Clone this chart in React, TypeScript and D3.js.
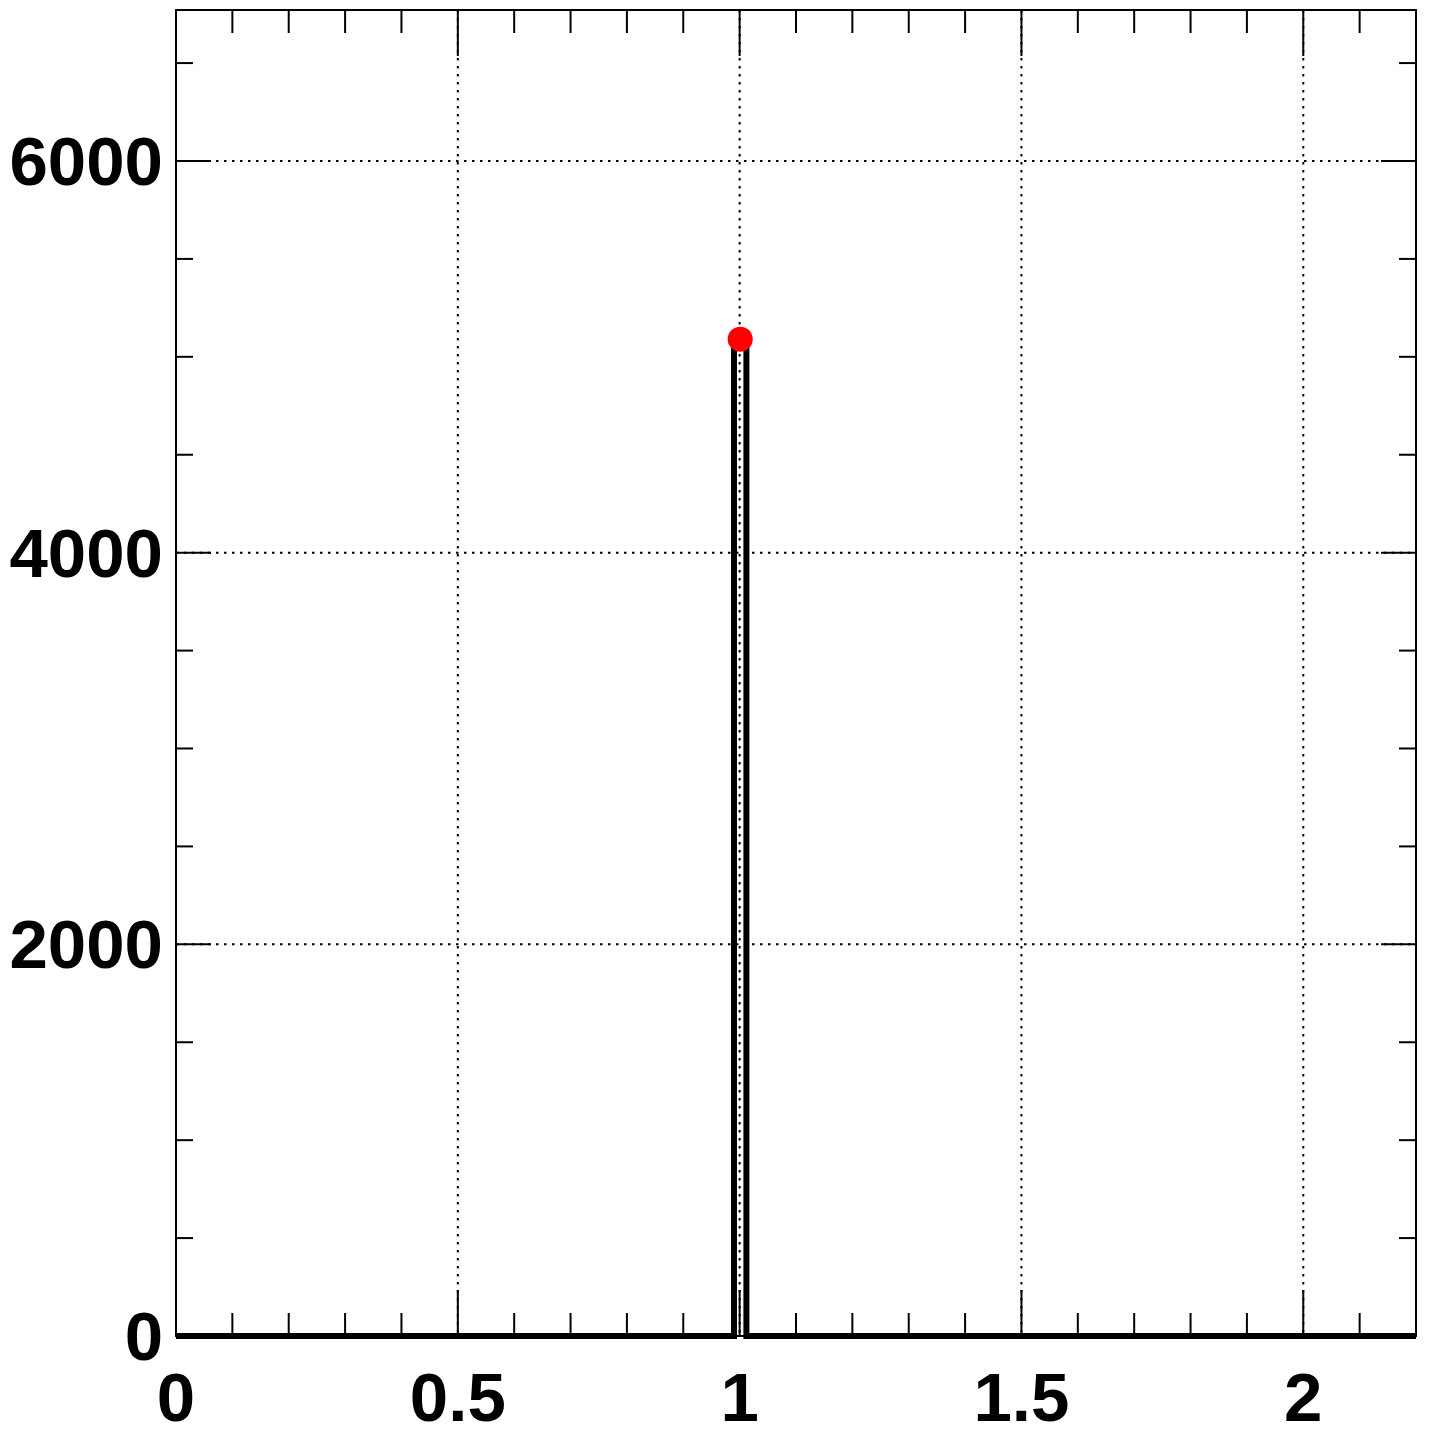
import React from "react";
import * as d3 from "d3";

// ---- data ----
const binEdges = [0, 0.99, 1.012, 2.2];
const binCounts = [0, 5090, 0];
const pointX = [1.001];
const pointY = [5090];
const xMajorTicks = [0, 0.5, 1, 1.5, 2];
const xTickLabels = ["0", "0.5", "1", "1.5", "2"];
const yMajorTicks = [0, 2000, 4000, 6000];
const yTickLabels = ["0", "2000", "4000", "6000"];
const xDomain = [0, 2.2];
const yDomain = [0, 6771];

const W = 1434;
const H = 1432;
const L = 176, R = 1416, T = 10, B = 1336;
const FONT = "'Liberation Sans', Arial, Helvetica, sans-serif";

export default function App() {
  const x = d3.scaleLinear().domain(xDomain).range([L, R]);
  const y = d3.scaleLinear().domain(yDomain).range([B, T]);

  const xMinor = d3.range(0, 2.2001, 0.1).filter((v) => v <= xDomain[1] + 1e-9);
  const yMinor = d3.range(0, yDomain[1], 500);

  // histogram step outline
  const pts: [number, number][] = [];
  for (let i = 0; i < binCounts.length; i++) {
    pts.push([binEdges[i], binCounts[i]]);
    pts.push([binEdges[i + 1], binCounts[i]]);
  }
  const line = d3
    .line<[number, number]>()
    .x((d) => x(d[0]))
    .y((d) => y(d[1]));
  const histPath = line(pts) || "";

  const grid = { stroke: "#000", strokeWidth: 2, strokeDasharray: "2.5,5.5" };

  return (
    <svg
      width={W}
      height={H}
      style={{ position: "absolute", left: 0, top: 0, display: "block", background: "#fff" }}
    >
      <rect x={0} y={0} width={W} height={H} fill="#fff" />
      {/* grid */}
      {xMajorTicks.slice(1).map((v) => (
        <line key={"gx" + v} x1={x(v)} x2={x(v)} y1={T} y2={B} {...grid} />
      ))}
      {yMajorTicks.slice(1).map((v) => (
        <line key={"gy" + v} x1={L} x2={R} y1={y(v)} y2={y(v)} {...grid} />
      ))}
      {/* ticks x */}
      {xMinor.map((v, i) => {
        const major = xMajorTicks.some((m) => Math.abs(m - v) < 1e-6);
        const len = major ? 46 : 23;
        return (
          <g key={"tx" + i} stroke="#000" strokeWidth={2}>
            <line x1={x(v)} x2={x(v)} y1={B} y2={B - len} />
            <line x1={x(v)} x2={x(v)} y1={T} y2={T + len} />
          </g>
        );
      })}
      {/* ticks y */}
      {yMinor.map((v, i) => {
        const major = yMajorTicks.includes(v);
        const len = major ? 35 : 17;
        return (
          <g key={"ty" + i} stroke="#000" strokeWidth={2}>
            <line x1={L} x2={L + len} y1={y(v)} y2={y(v)} />
            <line x1={R} x2={R - len} y1={y(v)} y2={y(v)} />
          </g>
        );
      })}
      {/* frame */}
      <rect x={L} y={T} width={R - L} height={B - T} fill="none" stroke="#000" strokeWidth={2} />
      {/* histogram */}
      <path d={histPath} fill="none" stroke="#000" strokeWidth={6} strokeLinejoin="miter" />
      {/* points */}
      {pointX.map((px, i) => (
        <circle key={"p" + i} cx={x(px)} cy={y(pointY[i])} r={12.5} fill="#ff0000" />
      ))}
      {/* labels */}
      <g fontFamily={FONT} fontWeight="bold" fontSize={69} fill="#000">
        {xMajorTicks.map((v, i) => (
          <text key={"lx" + v} x={x(v)} y={1421} textAnchor="middle">
            {xTickLabels[i]}
          </text>
        ))}
        {yMajorTicks.map((v, i) => (
          <text key={"ly" + v} x={163} y={y(v) + 24} textAnchor="end">
            {yTickLabels[i]}
          </text>
        ))}
      </g>
    </svg>
  );
}
